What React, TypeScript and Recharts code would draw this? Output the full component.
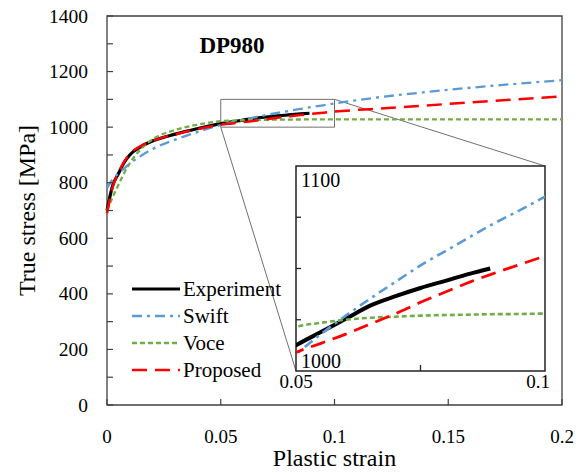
import { LineChart, Line, XAxis, YAxis, ReferenceArea, ReferenceLine, Label } from "recharts";

const strain = [0, 0.0025, 0.005, 0.0075, 0.01, 0.015, 0.02, 0.03, 0.04, 0.05, 0.055, 0.06, 0.065, 0.07, 0.075, 0.08, 0.085, 0.089, 0.095, 0.1, 0.12, 0.14, 0.16, 0.18, 0.2];
const experiment = [700, 790, 832, 872, 900, 930, 950, 975, 995, 1012.5, 1019, 1025.5, 1032, 1036.5, 1040.5, 1044, 1047.5, 1050, null, null, null, null, null, null, null];
const swift = [780, 812, 833, 851, 868, 897, 921, 955, 983, 1008, 1018, 1027, 1035.5, 1043.5, 1051.5, 1058.5, 1065.5, 1071, 1078.5, 1085, 1108, 1126, 1142, 1156, 1169];
const voce = [700, 748, 792, 834, 870, 922, 956, 990, 1009, 1021.5, 1023.5, 1025, 1026, 1026.5, 1027, 1027.3, 1027.5, 1027.7, 1027.8, 1028, 1028, 1028, 1028, 1028, 1028];
const proposed = [690, 785, 835, 875, 903, 933, 951, 974, 993, 1009, 1013.5, 1018, 1023, 1028, 1033.5, 1038.5, 1043.5, 1047, 1052, 1056, 1067, 1078, 1089, 1100, 1111];

const xTicks = [0, 0.05, 0.1, 0.15, 0.2];
const yTicks = [0, 100, 200, 300, 400, 500, 600, 700, 800, 900, 1000, 1100, 1200, 1300, 1400];
const insetXTicks = [0.05, 0.075, 0.1];
const insetYTicks = [1000, 1025, 1050, 1075, 1100];

const data = strain.map((s, i) => ({
  strain: s,
  experiment: experiment[i],
  swift: swift[i],
  voce: voce[i],
  proposed: proposed[i],
}));

const FONT = "'Liberation Serif', 'Times New Roman', serif";

const series = [
  { key: "experiment", label: "Experiment", color: "#000000", width: 3.2, insetWidth: 4, dash: undefined },
  { key: "swift", label: "Swift", color: "#5b9bd5", width: 2.3, insetWidth: 2.6, dash: "10 5 3 5" },
  { key: "voce", label: "Voce", color: "#70ad47", width: 2.3, insetWidth: 2.6, dash: "5 3" },
  { key: "proposed", label: "Proposed", color: "#ff0000", width: 2.5, insetWidth: 2.8, dash: "15 8" },
];

// main plot box (px)
const W = 584;
const H = 473;
const PLOT = { left: 107, top: 16, right: 562, bottom: 405 };
// inset box (px)
const INSET = { left: 296, top: 166, width: 249, height: 205 };
const INSET_PAD = 25;

const toDataX = (px: number) => ((px - PLOT.left) / (PLOT.right - PLOT.left)) * 0.2;
const toDataY = (py: number) => ((PLOT.bottom - py) / (PLOT.bottom - PLOT.top)) * 1400;

const MainXTick = (props: any) => {
  const { x, y, payload } = props;
  return (
    <g>
      <line x1={x} x2={x} y1={y} y2={y - 6} stroke="#404040" strokeWidth={1.2} />
      <text x={x} y={y + 38} textAnchor="middle" fontSize={19} fontFamily={FONT} fill="#000">
        {String(payload.value)}
      </text>
    </g>
  );
};

const MainYTick = (props: any) => {
  const { x, y, payload } = props;
  return (
    <g>
      <line x1={x} x2={x + 6} y1={y} y2={y} stroke="#404040" strokeWidth={1.2} />
      {payload.value % 200 === 0 && (
        <text x={x - 19} y={y + 6.5} textAnchor="end" fontSize={19.5} fontFamily={FONT} fill="#000">
          {String(payload.value)}
        </text>
      )}
    </g>
  );
};

const InsetXTick = (props: any) => {
  const { x, y, payload } = props;
  if (payload.value === 0.075) {
    return <line x1={x} x2={x} y1={y} y2={y - 6} stroke="#222" strokeWidth={1.3} />;
  }
  return (
    <text x={payload.value === 0.1 ? x - 7 : x} y={y + 17} textAnchor="middle" fontSize={19} fontFamily={FONT} fill="#000">
      {String(payload.value)}
    </text>
  );
};

const InsetYTick = (props: any) => {
  const { x, y, payload } = props;
  if (payload.value === 1100) {
    return (
      <text x={x + 5} y={y + 21} textAnchor="start" fontSize={20} fontFamily={FONT} fill="#000">
        1100
      </text>
    );
  }
  if (payload.value === 1000) {
    return (
      <text x={x + 5} y={y - 3} textAnchor="start" fontSize={20} fontFamily={FONT} fill="#000">
        1000
      </text>
    );
  }
  return <line x1={x} x2={x + 5} y1={y} y2={y} stroke="#222" strokeWidth={1.3} />;
};

export default function App() {
  const insetLeftData = toDataX(INSET.left);
  const insetBottomData = toDataY(INSET.top + INSET.height);
  const insetRightData = toDataX(INSET.left + INSET.width);
  const insetTopData = toDataY(INSET.top);

  return (
    <div style={{ position: "absolute", left: 0, top: 0, width: W, height: H, background: "#fff" }}>
      <LineChart width={W} height={H} data={data} margin={{ top: PLOT.top, right: W - PLOT.right, left: 10, bottom: 0 }}>
        <XAxis
          dataKey="strain"
          type="number"
          domain={[0, 0.2]}
          ticks={xTicks}
          interval={0}
          axisLine={false}
          tickLine={false}
          tickSize={0}
          tickMargin={0}
          height={H - PLOT.bottom}
          tick={<MainXTick />}
        >
          <Label value="Plastic strain" position="insideBottom" offset={7} fontSize={24} fontFamily={FONT} fill="#000" />
        </XAxis>
        <YAxis
          type="number"
          domain={[0, 1400]}
          ticks={yTicks}
          interval={0}
          axisLine={false}
          tickLine={false}
          tickSize={0}
          tickMargin={0}
          width={PLOT.left - 10}
          tick={<MainYTick />}
        >
          <Label
            value="True stress [MPa]"
            angle={-90}
            position="insideLeft"
            offset={16}
            fontSize={24}
            fontFamily={FONT}
            fill="#000"
            style={{ textAnchor: "middle" }}
          />
        </YAxis>
        <ReferenceArea x1={0} x2={0.2} y1={0} y2={1400} fill="none" stroke="#404040" strokeWidth={1.3} />
        <ReferenceArea x1={0.05} x2={0.1} y1={1000} y2={1100} fill="none" stroke="#707070" strokeWidth={1} />
        <ReferenceLine
          segment={[{ x: 0.05, y: 1000 }, { x: insetLeftData, y: insetBottomData }]}
          stroke="#707070"
          strokeWidth={1}
        />
        <ReferenceLine
          segment={[{ x: 0.1, y: 1100 }, { x: insetRightData, y: insetTopData }]}
          stroke="#707070"
          strokeWidth={1}
        />
        {series.map((s) => (
          <Line
            key={s.key}
            type="monotone"
            dataKey={s.key}
            stroke={s.color}
            strokeWidth={s.width}
            strokeDasharray={s.dash}
            dot={false}
            activeDot={false}
            isAnimationActive={false}
          />
        ))}
      </LineChart>

      <div style={{ position: "absolute", left: INSET.left - INSET_PAD, top: INSET.top - 10 }}>
        <LineChart
          width={INSET.width + INSET_PAD + 11}
          height={INSET.height + 30}
          data={data}
          margin={{ top: 10, right: 11, left: INSET_PAD - 5, bottom: 0 }}
        >
          <ReferenceArea x1={0.05} x2={0.1} y1={1000} y2={1100} fill="#fff" stroke="#222" strokeWidth={1.5} />
          <XAxis
            dataKey="strain"
            type="number"
            domain={[0.05, 0.1]}
            allowDataOverflow
            ticks={insetXTicks}
            interval={0}
            axisLine={false}
            tickLine={false}
            tickSize={0}
            tickMargin={0}
            height={20}
            tick={<InsetXTick />}
          />
          <YAxis
            type="number"
            domain={[1000, 1100]}
            allowDataOverflow
            ticks={insetYTicks}
            interval={0}
            axisLine={false}
            tickLine={false}
            tickSize={0}
            tickMargin={0}
            width={5}
            tick={<InsetYTick />}
          />
          {series.map((s) => (
            <Line
              key={s.key}
              type="monotone"
              dataKey={s.key}
              stroke={s.color}
              strokeWidth={s.insetWidth}
              strokeDasharray={s.dash}
              dot={false}
              activeDot={false}
              isAnimationActive={false}
            />
          ))}
        </LineChart>
      </div>

      <svg width={W} height={H} style={{ position: "absolute", left: 0, top: 0, pointerEvents: "none" }}>
        <text x={232} y={53} textAnchor="middle" fontSize={23} fontWeight="bold" fontFamily={FONT} fill="#000">
          DP980
        </text>
        {series.map((s, i) => {
          const cy = 289 + i * 27;
          return (
            <g key={s.key}>
              <line x1={132} x2={180} y1={cy} y2={cy} stroke={s.color} strokeWidth={s.width} strokeDasharray={s.dash} />
              <text x={183} y={cy + 7} fontSize={21} fontFamily={FONT} fill="#000">
                {s.label}
              </text>
            </g>
          );
        })}
      </svg>
    </div>
  );
}
